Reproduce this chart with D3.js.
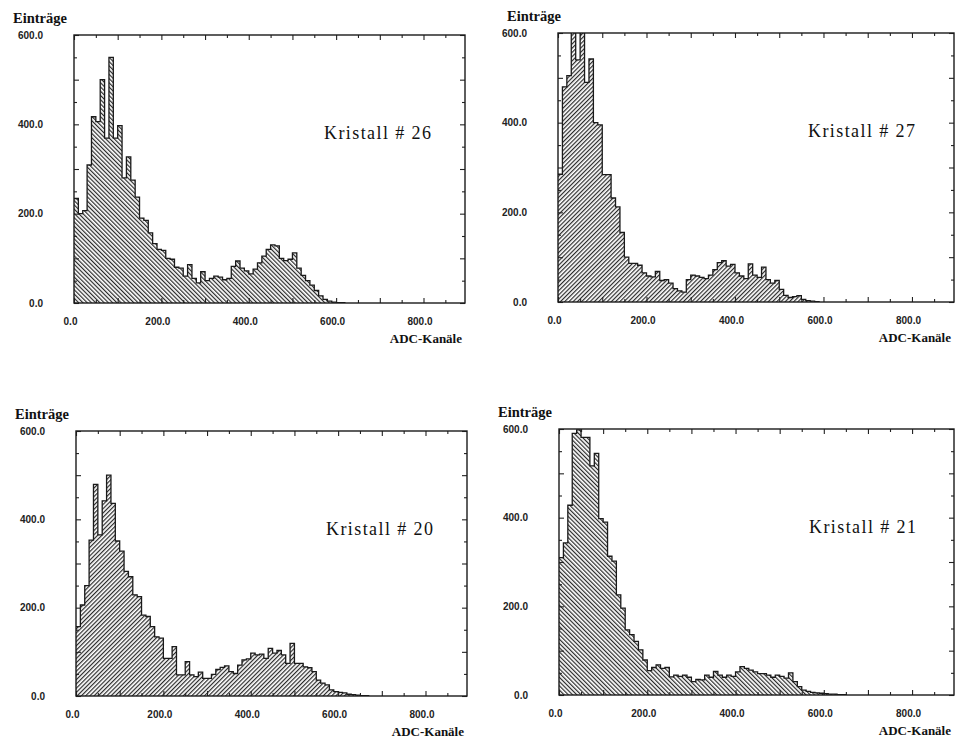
<!DOCTYPE html>
<html>
<head>
<meta charset="utf-8">
<script src="https://cdn.jsdelivr.net/npm/d3@7"></script>
<style>
    body { margin: 0; background: #fff; }
    .tick text { font-family: "Liberation Sans", Arial, sans-serif; font-size: 10px; font-weight: bold; fill: #222; }
    .axis-title { font-family: "Liberation Serif", serif; font-weight: bold; font-size: 15px; fill: #111; }
    .x-title { font-family: "Liberation Serif", serif; font-weight: bold; font-size: 13px; fill: #111; }
    .crystal-label { font-family: "Liberation Serif", serif; font-size: 18px; fill: #111; }
</style>
</head>
<body>
<svg id="chart" width="957" height="741"></svg>
<script>

// entries per bin, 10 ADC channels per bin starting at channel 0
const kristall26 = [234, 200, 207, 309, 417, 406, 500, 369, 550, 369, 397, 280, 327, 275, 237, 190, 185, 157, 133,
    120, 118, 100, 98, 80, 78, 60, 86, 55, 45, 70, 50, 55, 60, 58, 52, 55, 82, 94, 78, 72, 65, 76, 90, 105, 120,
    130, 128, 100, 95, 98, 112, 78, 62, 50, 40, 28, 16, 8, 4, 2, 1, 1];
const kristall27 = [285, 480, 505, 620, 540, 620, 490, 542, 400, 395, 284, 284, 232, 212, 155, 100, 86, 86, 82,
    65, 58, 56, 68, 48, 50, 42, 30, 25, 22, 50, 60, 58, 55, 52, 60, 72, 88, 92, 80, 84, 65, 58, 52, 85, 60, 55,
    78, 50, 42, 48, 28, 15, 10, 12, 14, 6, 3, 2, 1];
const kristall20 = [157, 206, 250, 353, 479, 365, 442, 500, 436, 351, 328, 282, 270, 229, 225, 183, 180, 157, 134,
    131, 85, 85, 112, 48, 48, 78, 48, 44, 54, 40, 40, 49, 60, 65, 68, 55, 51, 70, 82, 84, 97, 93, 95, 85, 108, 97,
    103, 93, 74, 119, 74, 74, 66, 64, 55, 36, 29, 25, 14, 10, 8, 7, 4, 3, 2, 1, 1];
const kristall21 = [310, 343, 428, 590, 598, 581, 581, 517, 545, 398, 390, 313, 302, 226, 196, 147, 136, 121, 102,
    79, 55, 62, 68, 60, 62, 41, 45, 42, 45, 40, 30, 35, 34, 45, 40, 53, 45, 40, 45, 42, 52, 64, 60, 56, 52, 48,
    48, 45, 40, 45, 42, 38, 50, 30, 19, 11, 8, 6, 5, 4, 3, 2, 2, 1, 1];

const binWidth = 10;
const xLabelTicks = [0, 200, 400, 600, 800];
const xMajorTicks = [0, 100, 200, 300, 400, 500, 600, 700, 800];
const xMinorTicks = [50, 150, 250, 350, 450, 550, 650, 750, 850];
const yLabelTicks = [0, 200, 400, 600];
const yMajorTicks = [0, 100, 200, 300, 400, 500, 600];
const yMinorTicks = [50, 150, 250, 350, 450, 550];


class Histogram {

    constructor(svg, id, frame, counts, name, hatchAngle, einX) {
        this.svg = svg;
        this.id = id;
        this.frame = frame;
        this.counts = counts;
        this.name = name;
        this.hatchAngle = hatchAngle;
        this.einX = einX;
        this.initVis();
    }

    initVis() {
        let vis = this;
        let f = vis.frame;

        vis.x = d3.scaleLinear().domain([0, 895]).range([f.left, f.right]);
        vis.y = d3.scaleLinear().domain([0, 600]).range([f.bottom, f.top]);

        // hatch pattern + clip
        let defs = vis.svg.append("defs");
        let pat = defs.append("pattern")
            .attr("id", "hatch-" + vis.id)
            .attr("patternUnits", "userSpaceOnUse")
            .attr("width", 3)
            .attr("height", 3)
            .attr("patternTransform", "rotate(" + vis.hatchAngle + ")");
        pat.append("rect").attr("width", 3).attr("height", 3).attr("fill", "#fff");
        pat.append("line")
            .attr("x1", 0.6).attr("y1", 0).attr("x2", 0.6).attr("y2", 3)
            .attr("stroke", "#2a2a2a")
            .attr("stroke-width", 1.2);

        defs.append("clipPath").attr("id", "clip-" + vis.id)
            .append("rect")
            .attr("x", f.left).attr("y", f.top)
            .attr("width", f.right - f.left).attr("height", f.bottom - f.top);

        vis.g = vis.svg.append("g");

        vis.updateVis();
    }

    updateVis() {
        let vis = this;
        let f = vis.frame;

        // step points, one extra point closes the last bin
        let pts = vis.counts.map((c, i) => ({lo: i * binWidth, n: c}));
        pts.push({lo: vis.counts.length * binWidth, n: 0});

        let area = d3.area()
            .curve(d3.curveStepAfter)
            .x(d => vis.x(d.lo))
            .y0(vis.y(0))
            .y1(d => vis.y(d.n));

        let line = d3.line()
            .curve(d3.curveStepAfter)
            .x(d => vis.x(d.lo))
            .y(d => vis.y(d.n));

        let hist = vis.g.append("g").attr("clip-path", "url(#clip-" + vis.id + ")");
        hist.append("path")
            .datum(pts)
            .attr("fill", "url(#hatch-" + vis.id + ")")
            .attr("d", area);
        hist.append("path")
            .datum(pts)
            .attr("fill", "none")
            .attr("stroke", "#1a1a1a")
            .attr("stroke-width", 1.3)
            .attr("d", line);

        // axes: ticks point inwards on all four sides
        let fmt = d3.format(".1f");
        let addAxis = function(axis, tf) {
            let a = vis.g.append("g").attr("transform", tf).call(axis);
            a.select(".domain").remove();
            a.selectAll(".tick line").attr("stroke", "#222").attr("stroke-width", 1.1);
            return a;
        };

        addAxis(d3.axisBottom(vis.x).tickValues(xMajorTicks).tickSize(-5).tickFormat(""), "translate(0," + f.bottom + ")");
        addAxis(d3.axisBottom(vis.x).tickValues(xMinorTicks).tickSize(-3).tickFormat(""), "translate(0," + f.bottom + ")");
        addAxis(d3.axisTop(vis.x).tickValues(xMajorTicks).tickSize(-5).tickFormat(""), "translate(0," + f.top + ")");
        addAxis(d3.axisTop(vis.x).tickValues(xMinorTicks).tickSize(-3).tickFormat(""), "translate(0," + f.top + ")");
        addAxis(d3.axisLeft(vis.y).tickValues(yMajorTicks).tickSize(-5).tickFormat(""), "translate(" + f.left + ",0)");
        addAxis(d3.axisLeft(vis.y).tickValues(yMinorTicks).tickSize(-3).tickFormat(""), "translate(" + f.left + ",0)");
        addAxis(d3.axisRight(vis.y).tickValues(yMajorTicks).tickSize(-5).tickFormat(""), "translate(" + f.right + ",0)");
        addAxis(d3.axisRight(vis.y).tickValues(yMinorTicks).tickSize(-3).tickFormat(""), "translate(" + f.right + ",0)");

        // tick labels
        let xl = addAxis(d3.axisBottom(vis.x).tickValues(xLabelTicks).tickSize(0).tickPadding(15).tickFormat(fmt),
            "translate(0," + f.bottom + ")");
        xl.selectAll("text").attr("dx", -4);
        addAxis(d3.axisLeft(vis.y).tickValues(yLabelTicks).tickSize(0).tickPadding(31).tickFormat(fmt),
            "translate(" + f.left + ",0)");

        // frame
        vis.g.append("rect")
            .attr("x", f.left).attr("y", f.top)
            .attr("width", f.right - f.left).attr("height", f.bottom - f.top)
            .attr("fill", "none")
            .attr("stroke", "#1a1a1a")
            .attr("stroke-width", 1.4);

        // titles
        vis.g.append("text")
            .attr("class", "axis-title")
            .attr("x", f.left + vis.einX)
            .attr("y", f.top - 12)
            .attr("textLength", 54)
            .attr("lengthAdjust", "spacingAndGlyphs")
            .text("Einträge");

        vis.g.append("text")
            .attr("class", "x-title")
            .attr("x", f.right - 3)
            .attr("y", f.bottom + 40)
            .attr("text-anchor", "end")
            .text("ADC-Kanäle");

        vis.g.append("text")
            .attr("class", "crystal-label")
            .attr("x", f.left + 250)
            .attr("y", f.top + 104)
            .attr("textLength", 107)
            .attr("lengthAdjust", "spacing")
            .text("Kristall # " + vis.name);
    }
}

let svg = d3.select("#chart");

new Histogram(svg, "k26", {left: 74, right: 465, top: 35, bottom: 303}, kristall26, "26", -45, -61);
new Histogram(svg, "k27", {left: 558, right: 954, top: 33, bottom: 302}, kristall27, "27", 45, -51);
new Histogram(svg, "k20", {left: 76, right: 467, top: 431, bottom: 696}, kristall20, "20", 45, -61);
new Histogram(svg, "k21", {left: 559, right: 954, top: 429, bottom: 695}, kristall21, "21", -45, -61);

</script>
</body>
</html>
